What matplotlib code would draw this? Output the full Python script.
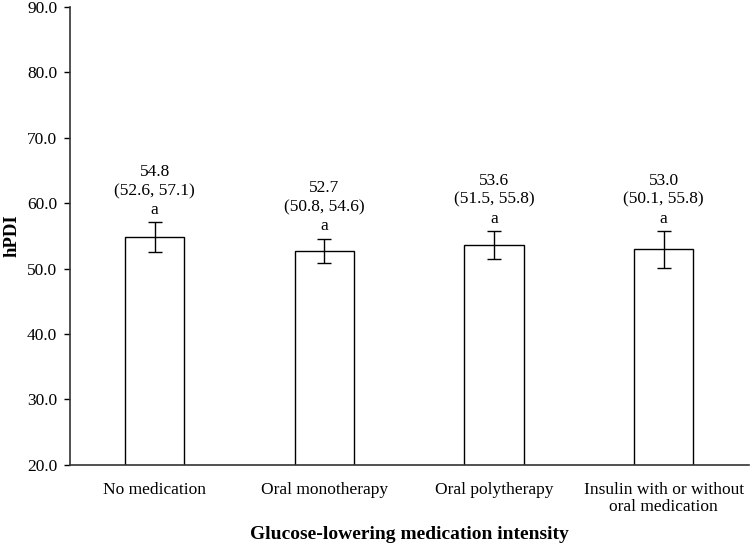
import matplotlib
matplotlib.use("Agg")
import matplotlib.pyplot as plt
import numpy as np

categories = ["No medication", "Oral monotherapy", "Oral polytherapy",
              "Insulin with or without\noral medication"]
means = [54.8, 52.7, 53.6, 53.0]
lower = [52.6, 50.8, 51.5, 50.1]
upper = [57.1, 54.6, 55.8, 55.8]
letters = ["a", "a", "a", "a"]
yticks = [20, 30, 40, 50, 60, 70, 80, 90]

plt.rcParams['font.family'] = ['Liberation Serif', 'DejaVu Serif']

fig = plt.figure(figsize=(7.5, 5.45), dpi=100)
ax = fig.add_axes([0.093, 0.147, 0.905, 0.84])

x = np.arange(len(categories))
means_a = np.array(means)
yerr = np.vstack([means_a - np.array(lower), np.array(upper) - means_a])
ax.bar(x, means, width=0.35, bottom=0, color="white", edgecolor="black", linewidth=1.0)
ax.errorbar(x, means, yerr=yerr, fmt="none", ecolor="black", elinewidth=1.0, capsize=5, capthick=1.0)

for xi, m, lo, hi, let in zip(x, means, lower, upper, letters):
    ax.annotate(f"{m:.1f}\n({lo:.1f}, {hi:.1f})\n{let}", xy=(xi, hi), xytext=(0, 3),
                textcoords="offset points", ha="center", va="bottom", fontsize=12.5,
                linespacing=1.25)

ax.set_ylim(20, 90)
ax.set_xlim(-0.5, len(categories) - 0.5)
ax.set_yticks(yticks)
ax.set_yticklabels([f"{v:.1f}" for v in yticks], fontsize=12.5)
ax.set_xticks(x)
ax.set_xticklabels(categories, fontsize=12.5, linespacing=1.1)
ax.tick_params(axis="x", length=0, pad=12)
ax.tick_params(axis="y", length=4, width=1.0, direction="out", pad=5)
for s in ["top", "right"]:
    ax.spines[s].set_visible(False)
for s in ["left", "bottom"]:
    ax.spines[s].set_linewidth(1.2)
    ax.spines[s].set_color("#333333")
ax.set_ylabel("hPDI", fontsize=13.5, fontweight="bold", labelpad=5)
ax.set_xlabel("Glucose-lowering medication intensity", fontsize=14, fontweight="bold", labelpad=8)

fig.savefig("out.png", dpi=100)
